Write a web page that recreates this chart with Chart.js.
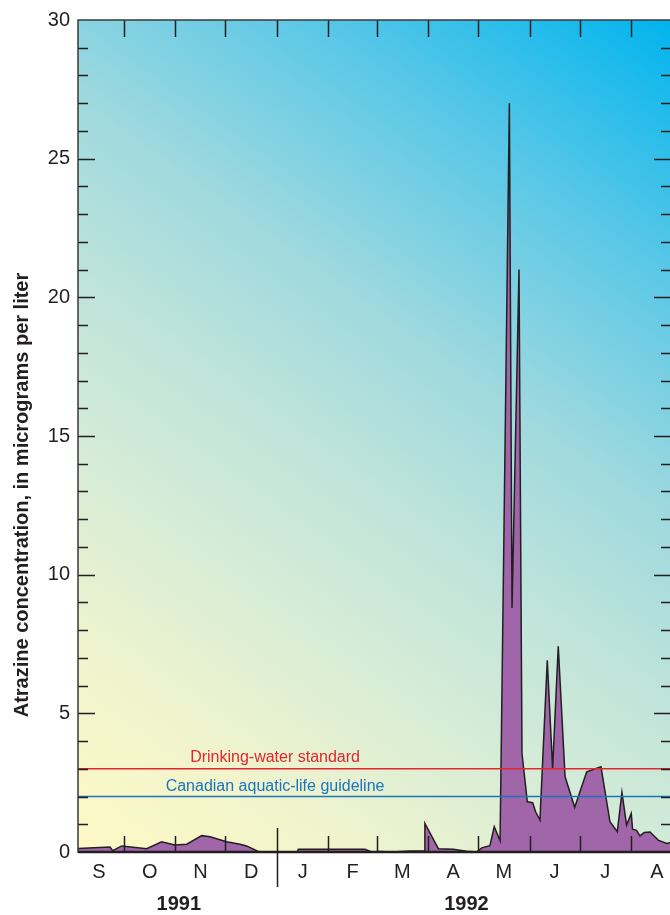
<!DOCTYPE html>
<html>
<head>
<meta charset="utf-8">
<script src="https://cdn.jsdelivr.net/npm/chart.js@4.4.1/dist/chart.umd.min.js"></script>
<style>
    html, body { margin: 0; padding: 0; background: #fff; overflow: hidden; }
    #wrap { position: relative; width: 676px; height: 915px; }
</style>
</head>
<body>
<div id="wrap"><canvas id="chart" width="676" height="915"></canvas></div>
<script>
// x values are days counted from 1 Sep 1991
const days = [2.4, 21.6, 23.3, 28.7, 43.7, 52.7, 60.7, 67.8, 76.8, 81.8, 91.8, 99.8, 103.8, 111.4,
    134.3, 134.9, 175, 179, 184, 192, 202, 210.5, 211.0, 219.1, 228.1, 236.1, 242.2, 245.2, 250.1,
    252.7, 256.2, 261.8, 263.4, 267.6, 269.4, 272.6, 275.8, 277.6, 280.2, 284.6, 287.8, 291.2, 295.3,
    301.1, 308.3, 316.9, 322.3, 326.7, 329.5, 332.3, 335.1, 335.9, 338.3, 340.3, 342.9, 346.4, 351.3,
    356.4, 359];
const conc = [0.13, 0.18, 0.05, 0.22, 0.12, 0.37, 0.25, 0.28, 0.59, 0.55, 0.37, 0.28, 0.22, 0,
    0, 0.1, 0.1, 0, 0.02, 0, 0.04, 0.04, 1.03, 0.12, 0.1, 0.03, 0, 0.15, 0.23,
    0.91, 0.41, 27, 8.8, 21, 3.55, 1.81, 1.78, 1.45, 1.15, 6.91, 3.01, 7.42, 2.71,
    1.61, 2.89, 3.07, 1.09, 0.73, 2.15, 0.97, 1.39, 0.82, 0.78, 0.58, 0.7, 0.72, 0.43,
    0.31, 0.34];

const monthStarts = [30, 61, 91, 122, 153, 182, 213, 243, 274, 304, 335];
const monthMids = [15, 45.5, 76, 106.5, 137.5, 167.5, 197.5, 228, 258.5, 289, 319.5, 350.5];
const monthLabels = ['S', 'O', 'N', 'D', 'J', 'F', 'M', 'A', 'M', 'J', 'J', 'A'];
const yearLabels = ['1991', '1992'];
const yearCenters = [63, 236];
const yearBreak = 122;

const drinkingStandard = 3;
const aquaticGuideline = 2;
const refLabels = ['Drinking-water standard', 'Canadian aquatic-life guideline'];

const X_MIN = 2.4, X_MAX = 359;
const INK = '#231f20';

// Diagonal yellow-to-cyan background
const backgroundPlugin = {
    id: 'background',
    beforeDraw(chart) {
        const { ctx, chartArea: a } = chart;
        const g = ctx.createLinearGradient(a.left, a.bottom, a.right, a.top);
        g.addColorStop(0, '#fef9c6');
        g.addColorStop(0.15, '#f1f4cc');
        g.addColorStop(0.3, '#d9edd6');
        g.addColorStop(0.45, '#c0e4da');
        g.addColorStop(0.6, '#a0d9de');
        g.addColorStop(0.8, '#58c7e7');
        g.addColorStop(1, '#00b4ee');
        ctx.save();
        ctx.fillStyle = g;
        ctx.fillRect(a.left, a.top, a.width, a.height);
        ctx.restore();
    }
};

// Frame, inside tick marks, reference labels, year labels, axis title
const decorPlugin = {
    id: 'decor',
    afterDraw(chart) {
        const { ctx, chartArea: a } = chart;
        const x = chart.scales.x, y = chart.scales.y;
        ctx.save();

        // reference line labels
        ctx.font = '16px "Liberation Sans", Arial, sans-serif';
        ctx.textAlign = 'center';
        ctx.textBaseline = 'middle';
        ctx.fillStyle = '#e3262f';
        ctx.fillText(refLabels[0], x.getPixelForValue(120.9), y.getPixelForValue(3.42));
        ctx.fillStyle = '#1c75bc';
        ctx.fillText(refLabels[1], x.getPixelForValue(120.9), y.getPixelForValue(2.35));

        ctx.strokeStyle = INK;
        ctx.lineWidth = 1.5;

        // y ticks, both sides
        for (let v = 1; v < 30; v++) {
            const py = Math.round(y.getPixelForValue(v)) + 0.5;
            const len = v % 5 === 0 ? 17 : 10;
            ctx.beginPath();
            ctx.moveTo(a.left, py); ctx.lineTo(a.left + len, py);
            ctx.moveTo(a.right, py); ctx.lineTo(a.right - len, py);
            ctx.stroke();
        }

        // month ticks, top and bottom
        monthStarts.forEach(d => {
            const px = Math.round(x.getPixelForValue(d)) + 0.5;
            ctx.beginPath();
            ctx.moveTo(px, a.top); ctx.lineTo(px, a.top + 17);
            if (d === yearBreak) {
                ctx.moveTo(px, a.bottom - 24); ctx.lineTo(px, a.bottom + 35);
            } else {
                ctx.moveTo(px, a.bottom); ctx.lineTo(px, a.bottom - 16);
            }
            ctx.stroke();
        });

        // frame
        ctx.strokeStyle = '#3b3839';
        ctx.lineWidth = 1.5;
        ctx.strokeRect(a.left, a.top, a.width, a.height);
        ctx.strokeStyle = INK;
        ctx.lineWidth = 2.5;
        ctx.beginPath();
        ctx.moveTo(a.left, a.bottom); ctx.lineTo(a.right, a.bottom);
        ctx.stroke();

        // year labels
        ctx.fillStyle = INK;
        ctx.font = 'bold 20px "Liberation Sans", Arial, sans-serif';
        ctx.textBaseline = 'middle';
        yearLabels.forEach((t, i) => {
            ctx.fillText(t, x.getPixelForValue(yearCenters[i]), 904);
        });

        // y axis title
        ctx.translate(22, 495);
        ctx.rotate(-Math.PI / 2);
        ctx.fillText('Atrazine concentration, in micrograms per liter', 0, 0);
        ctx.restore();
    }
};

const ctx = document.getElementById('chart').getContext('2d');

new Chart(ctx, {
    type: 'line',
    data: {
        datasets: [
            {
                label: 'Drinking-water standard',
                data: [{ x: X_MIN, y: drinkingStandard }, { x: X_MAX, y: drinkingStandard }],
                borderColor: '#e3262f',
                borderWidth: 1.5,
                pointRadius: 0,
                fill: false
            },
            {
                label: 'Canadian aquatic-life guideline',
                data: [{ x: X_MIN, y: aquaticGuideline }, { x: X_MAX, y: aquaticGuideline }],
                borderColor: '#1c75bc',
                borderWidth: 1.5,
                pointRadius: 0,
                fill: false
            },
            {
                label: 'Atrazine',
                data: days.map((d, i) => ({ x: d, y: conc[i] })),
                borderColor: INK,
                borderWidth: 1.5,
                backgroundColor: '#a066a9',
                pointRadius: 0,
                tension: 0,
                fill: 'origin'
            }
        ]
    },
    options: {
        responsive: false,
        animation: false,
        layout: {
            padding: { top: 19, right: 5, left: 0, bottom: 0 }
        },
        scales: {
            x: {
                type: 'linear',
                min: X_MIN,
                max: X_MAX,
                grid: { display: false, drawTicks: false },
                border: { display: false },
                afterBuildTicks: function(scale) {
                    scale.ticks = monthMids.map(v => ({ value: v }));
                },
                afterFit: function(scale) {
                    scale.height = 63;
                },
                ticks: {
                    autoSkip: false,
                    maxRotation: 0,
                    padding: 8,
                    color: INK,
                    font: { family: '"Liberation Sans", Arial, sans-serif', size: 20 },
                    callback: function(value, index) {
                        return monthLabels[index];
                    }
                }
            },
            y: {
                min: 0,
                max: 30,
                grid: { display: false, drawTicks: false },
                border: { display: false },
                afterFit: function(scale) {
                    scale.width = 78;
                },
                ticks: {
                    stepSize: 5,
                    padding: 8,
                    color: INK,
                    font: { family: '"Liberation Sans", Arial, sans-serif', size: 20 }
                }
            }
        },
        plugins: {
            legend: { display: false },
            tooltip: { enabled: false }
        }
    },
    plugins: [backgroundPlugin, decorPlugin]
});
</script>
</body>
</html>
